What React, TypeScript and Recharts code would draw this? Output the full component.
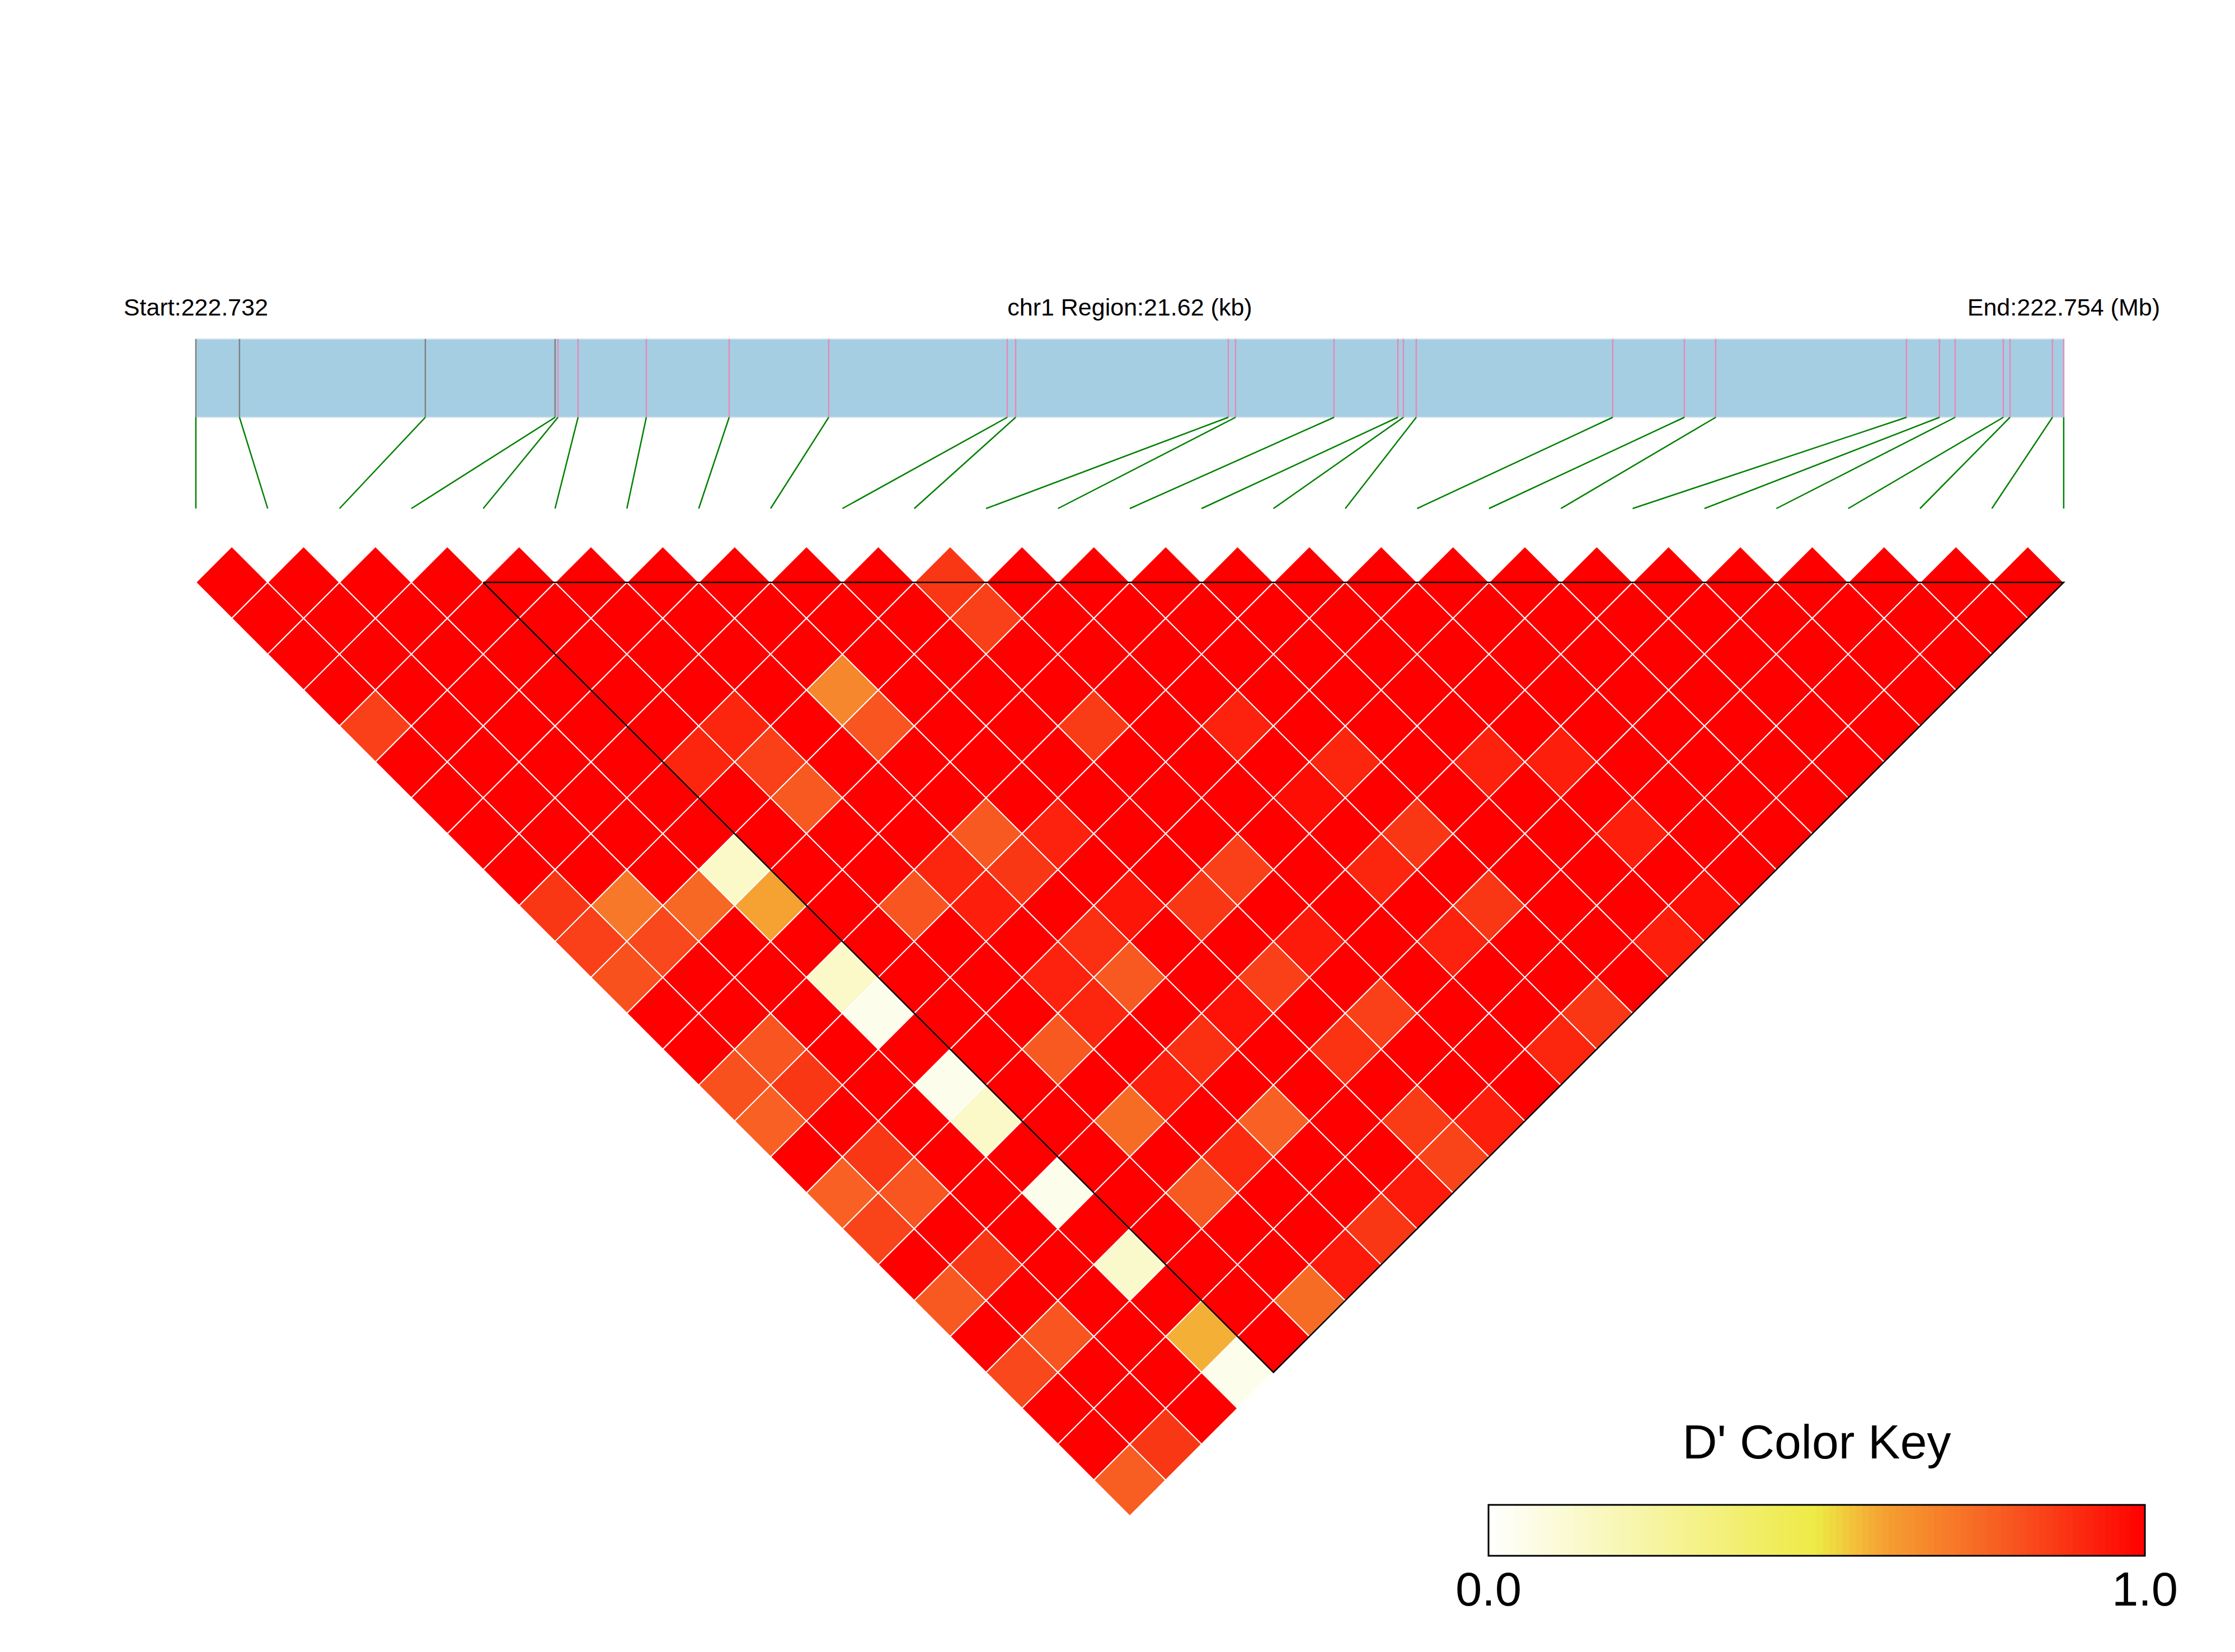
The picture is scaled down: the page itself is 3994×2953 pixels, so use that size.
import React from "react";
import { ScatterChart, Scatter, XAxis, YAxis, ReferenceLine, ReferenceArea } from "recharts";

const W = 3994;
const H = 2953;

const chromosome = "chr1";

// physical positions of the 27 SNPs (bp)
const snpPositions = [
  222732150, 222732655, 222734806, 222736308, 222736341, 222736574, 222737364,
  222738323, 222739475, 222741542, 222741639, 222744100, 222744184, 222745324,
  222746063, 222746127, 222746276, 222748550, 222749379, 222749742, 222751950,
  222752332, 222752514, 222753071, 222753148, 222753640, 222753770,
];

// pairwise D' : ldRowI holds SNP i against SNP i+1 ... SNP 26
const ldRow0 = [1, 1, 1, 1, 0.85, 1, 1, 1, 1, 0.87, 0.85, 0.81, 1, 1, 0.81, 0.77, 1, 0.77, 0.84, 1, 0.79, 1, 0.83, 1, 1, 0.78];
const ldRow1 = [1, 1, 1, 1, 1, 1, 1, 1, 1, 0.71, 0.83, 1, 1, 0.8, 0.87, 1, 0.87, 0.8, 1, 0.87, 1, 0.8, 1, 1, 0.87];
const ldRow2 = [1, 1, 1, 1, 1, 1, 1, 1, 1, 0.75, 1, 1, 1, 1, 1, 1, 1, 1, 1, 1, 1, 1, 1, 1];
const ldRow3 = [1, 1, 1, 1, 1, 1, 1, 1, 0.15, 0.6, 1, 0.15, 0.05, 1, 0.05, 0.15, 1, 0.05, 1, 0.14, 1, 0.58, 0.05];
const ldRow4 = [1, 1, 1, 1, 1, 0.91, 1, 1, 1, 1, 1, 1, 1, 1, 1, 1, 1, 1, 1, 1, 1, 1];
const ldRow5 = [1, 1, 1, 1, 0.91, 0.85, 0.79, 1, 1, 0.8, 1, 1, 1, 0.79, 1, 0.74, 1, 0.79, 1, 1, 0.74];
const ldRow6 = [1, 1, 1, 1, 1, 1, 1, 1, 0.91, 0.93, 1, 0.92, 0.91, 1, 0.93, 1, 0.9, 1, 1, 0.94];
const ldRow7 = [1, 1, 1, 0.67, 0.8, 1, 1, 0.79, 0.87, 1, 0.89, 0.79, 1, 0.89, 1, 0.77, 1, 1, 0.87];
const ldRow8 = [1, 1, 1, 1, 1, 1, 1, 0.92, 1, 0.95, 1, 1, 0.96, 1, 1, 1, 1, 0.94];
const ldRow9 = [1, 1, 1, 1, 1, 1, 1, 1, 1, 0.87, 1, 0.85, 1, 0.88, 1, 0.86, 0.84];
const ldRow10 = [0.87, 0.85, 1, 1, 0.86, 1, 1, 1, 0.85, 1, 0.94, 1, 0.85, 1, 1, 0.93];
const ldRow11 = [1, 1, 1, 1, 1, 1, 1, 1, 1, 1, 1, 1, 1, 1, 1];
const ldRow12 = [1, 1, 1, 1, 0.92, 1, 0.97, 1, 0.91, 1, 0.92, 1, 1, 0.91];
const ldRow13 = [1, 1, 1, 1, 1, 0.91, 1, 0.87, 1, 0.87, 1, 1, 0.87];
const ldRow14 = [1, 1, 1, 1, 1, 1, 1, 1, 1, 1, 1, 1];
const ldRow15 = [1, 1, 1, 1, 1, 0.92, 1, 1, 1, 1, 0.93];
const ldRow16 = [1, 1, 1, 1, 1, 0.93, 1, 0.93, 1, 0.97];
const ldRow17 = [1, 1, 1, 1, 1, 1, 1, 1, 1];
const ldRow18 = [1, 1, 1, 1, 1, 1, 1, 1];
const ldRow19 = [1, 1, 1, 1, 1, 1, 1];
const ldRow20 = [1, 1, 1, 1, 1, 1];
const ldRow21 = [1, 1, 1, 1, 1];
const ldRow22 = [1, 1, 1, 1];
const ldRow23 = [1, 1, 1];
const ldRow24 = [1, 1];
const ldRow25 = [1];

// LD block outlined in black (SNP indices)
const blockStart = 4;
const blockEnd = 26;

const ldRows = [
  ldRow0, ldRow1, ldRow2, ldRow3, ldRow4, ldRow5, ldRow6, ldRow7, ldRow8,
  ldRow9, ldRow10, ldRow11, ldRow12, ldRow13, ldRow14, ldRow15, ldRow16,
  ldRow17, ldRow18, ldRow19, ldRow20, ldRow21, ldRow22, ldRow23, ldRow24, ldRow25,
];

// layout (px)
const U = 128.38; // one SNP step
const X0 = 350; // SNP 0
const Y0 = 1041; // centres of the first diagonal
const MAP_TOP = 606;
const MAP_BOTTOM = 746;
const LINK_BOTTOM = 909;
const KEY = { left: 2660, right: 3833, top: 2690, bottom: 2781 };
const KEY_STEPS = 100;
const FONT = '"Liberation Sans", Arial, Helvetica, sans-serif';

const snpDomain = [-X0 / U, (W - X0) / U];
const cellDomain = [-(Y0 - U / 2) / U, (H - (Y0 - U / 2)) / U];
const pxToSnp = (px: number) => (px - X0) / U;

const rampStops: [number, number[]][] = [
  [0, [255, 255, 255]],
  [0.5, [238, 234, 69]],
  [0.6, [245, 162, 50]],
  [0.8, [248, 85, 32]],
  [1, [255, 0, 0]],
];

function dColor(v: number) {
  let k = 0;
  while (k < rampStops.length - 2 && v > rampStops[k + 1][0]) k++;
  const [a, ca] = rampStops[k];
  const [b, cb] = rampStops[k + 1];
  const t = Math.max(0, Math.min(1, (v - a) / (b - a)));
  const c = ca.map((x, n) => Math.round(x + (cb[n] - x) * t));
  return `rgb(${c[0]},${c[1]},${c[2]})`;
}

const nSnp = snpPositions.length;
const regionStart = snpPositions[0];
const regionEnd = snpPositions[nSnp - 1];
const mapX = (p: number) => ((p - regionStart) / (regionEnd - regionStart)) * (nSnp - 1);

const cells = ldRows.flatMap((row, i) =>
  row.map((d, k) => {
    const j = i + 1 + k;
    return { x: (i + j) / 2, y: (j - i) / 2, d };
  })
);

// block triangle: left corner, right corner, apex, back to start
const blockOutline = [
  { x: blockStart, y: 0.5 },
  { x: blockEnd, y: 0.5 },
  { x: (blockStart + blockEnd) / 2, y: (blockEnd - blockStart) / 2 + 0.5 },
  { x: blockStart, y: 0.5 },
];

const Diamond = (props: any) => {
  const { cx, cy, payload } = props;
  if (cx == null || cy == null) return <g />;
  const h = U / 2;
  return (
    <polygon
      points={`${cx},${cy - h} ${cx + h},${cy} ${cx},${cy + h} ${cx - h},${cy}`}
      fill={dColor(payload.d)}
      stroke="#ffffff"
      strokeWidth={2}
    />
  );
};

const NoDot = () => <g />;

const keySteps = Array.from({ length: KEY_STEPS }, (_, k) => k);

export default function App() {
  const stepW = (KEY.right - KEY.left) / KEY_STEPS;

  return (
    <div style={{ position: "absolute", left: 0, top: 0, width: W, height: H, background: "#fff" }}>
      <ScatterChart width={W} height={H} margin={{ top: 0, right: 0, bottom: 0, left: 0 }}>
        <XAxis type="number" dataKey="x" xAxisId="snp" domain={snpDomain} hide allowDataOverflow />
        <YAxis type="number" dataKey="y" yAxisId="cell" domain={cellDomain} reversed hide allowDataOverflow />
        <YAxis type="number" yAxisId="px" domain={[0, H]} reversed hide allowDataOverflow />

        {/* gene map */}
        <ReferenceArea
          xAxisId="snp"
          yAxisId="px"
          x1={0}
          x2={nSnp - 1}
          y1={MAP_TOP}
          y2={MAP_BOTTOM}
          fill="#a6cee3"
          fillOpacity={1}
          stroke="#d2e4ee"
          strokeWidth={2}
        />
        {snpPositions.map((p, k) => (
          <ReferenceLine
            key={`tick-${k}`}
            xAxisId="snp"
            yAxisId="px"
            segment={[
              { x: mapX(p), y: MAP_TOP },
              { x: mapX(p), y: MAP_BOTTOM },
            ]}
            stroke={k >= blockStart && k <= blockEnd ? "#e58ab8" : "#808080"}
            strokeWidth={2.5}
          />
        ))}
        {snpPositions.map((p, k) => (
          <ReferenceLine
            key={`link-${k}`}
            xAxisId="snp"
            yAxisId="px"
            segment={[
              { x: mapX(p), y: MAP_BOTTOM },
              { x: k, y: LINK_BOTTOM },
            ]}
            stroke="#008000"
            strokeWidth={2.5}
          />
        ))}

        {/* colour key */}
        {keySteps.map((k) => (
          <ReferenceArea
            key={`key-${k}`}
            xAxisId="snp"
            yAxisId="px"
            x1={pxToSnp(KEY.left + k * stepW)}
            x2={pxToSnp(KEY.left + (k + 1) * stepW)}
            y1={KEY.top}
            y2={KEY.bottom}
            fill={dColor((k + 0.5) / KEY_STEPS)}
            fillOpacity={1}
            stroke={dColor((k + 0.5) / KEY_STEPS)}
            strokeWidth={1}
            ifOverflow="visible"
          />
        ))}
        <ReferenceArea
          xAxisId="snp"
          yAxisId="px"
          x1={pxToSnp(KEY.left)}
          x2={pxToSnp(KEY.right)}
          y1={KEY.top}
          y2={KEY.bottom}
          fill="none"
          fillOpacity={0}
          stroke="#000"
          strokeWidth={3}
          ifOverflow="visible"
        />

        {/* D' heatmap */}
        <Scatter data={cells} xAxisId="snp" yAxisId="cell" shape={Diamond} isAnimationActive={false} />

        {/* LD block outline */}
        <Scatter
          data={blockOutline}
          xAxisId="snp"
          yAxisId="cell"
          line={{ stroke: "#000", strokeWidth: 2.5 }}
          shape={NoDot}
          isAnimationActive={false}
        />
      </ScatterChart>

      <svg width={W} height={H} style={{ position: "absolute", left: 0, top: 0, pointerEvents: "none" }}>
        <g fontFamily={FONT} fill="#000" textAnchor="middle">
          <text x={X0} y={564} fontSize={43}>
            {`Start:${(regionStart / 1e6).toFixed(3)}`}
          </text>
          <text x={X0 + ((nSnp - 1) * U) / 2} y={564} fontSize={43}>
            {`${chromosome} Region:${((regionEnd - regionStart) / 1000).toFixed(2)} (kb)`}
          </text>
          <text x={X0 + (nSnp - 1) * U} y={564} fontSize={43}>
            {`End:${(regionEnd / 1e6).toFixed(3)} (Mb)`}
          </text>
          <text x={(KEY.left + KEY.right) / 2} y={2607} fontSize={86}>
            D' Color Key
          </text>
          <text x={KEY.left} y={2870} fontSize={85}>
            0.0
          </text>
          <text x={KEY.right} y={2870} fontSize={85}>
            1.0
          </text>
        </g>
      </svg>
    </div>
  );
}
